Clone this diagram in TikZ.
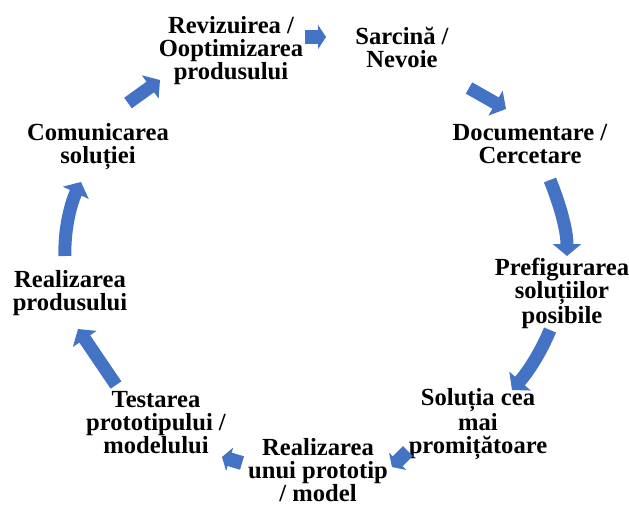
\documentclass[tikz,border=0pt]{standalone}
\usepackage{fontspec}
\setmainfont{Liberation Serif}
\usetikzlibrary{arrows.meta}
\definecolor{flowblue}{HTML}{4472C4}
\begin{document}
\begin{tikzpicture}[x=1pt,y=-1pt,
  stage/.style={font=\fontsize{24.6}{23}\selectfont\bfseries, align=center,
    inner sep=0pt, anchor=base},
  flow/.style={draw=flowblue, line width=13pt,
    -{Triangle[length=12pt,width=28pt]}},
  smallflow/.style={draw=flowblue, line width=14pt,
    -{Triangle[length=8pt,width=24pt]}}]
\useasboundingbox (0,0) rectangle (629,507);

% stages of the design cycle (placed by the baseline of their last line)
\node[stage] (task)    at (402,67)  {Sarcină /\\Nevoie};
\node[stage] (docs)    at (530,163) {Documentare /\\Cercetare};
\node[stage] (prefig)  at (562,323) {Prefigurarea\\soluțiilor\\posibile};
\node[stage] (best)    at (478,453) {Soluția cea\\mai\\promițătoare};
\node[stage] (proto)   at (318,501) {Realizarea\\unui prototip\\/ model};
\node[stage] (test)    at (156,453) {Testarea\\prototipului /\\modelului};
\node[stage] (product) at (70,310)  {Realizarea\\produsului};
\node[stage] (comm)    at (98,163)  {Comunicarea\\soluției};
\node[stage] (review)  at (231,79)  {Revizuirea /\\Ooptimizarea\\produsului};

% arrow end points between the stages
\coordinate (a1s) at (305,37);  \coordinate (a1e) at (326,37);
\coordinate (a2s) at (469,88);  \coordinate (a2e) at (506,109);
\coordinate (a3s) at (550,180); \coordinate (a3e) at (567,256);
\coordinate (a4s) at (550,330); \coordinate (a4e) at (512,390);
\coordinate (a5s) at (408,451); \coordinate (a5e) at (392,467);
\coordinate (a6s) at (242,463); \coordinate (a6e) at (222,457);
\coordinate (a7s) at (116,385); \coordinate (a7e) at (78,329);
\coordinate (a8s) at (65,256);  \coordinate (a8e) at (81,182);
\coordinate (a9s) at (128,103); \coordinate (a9e) at (160,80);

\draw[smallflow] (a1s) -- (a1e);
\draw[flow] (a2s) -- (a2e);
\draw[flow] (a3s) .. controls (560,205) and (567,230) .. (a3e);
\draw[flow] (a4s) .. controls (541,352) and (528,372) .. (a4e);
\draw[smallflow] (a5s) -- (a5e);
\draw[smallflow] (a6s) -- (a6e);
\draw[flow] (a7s) -- (a7e);
\draw[flow] (a8s) .. controls (64,232) and (70,205) .. (a8e);
\draw[flow] (a9s) -- (a9e);
\end{tikzpicture}
\end{document}
